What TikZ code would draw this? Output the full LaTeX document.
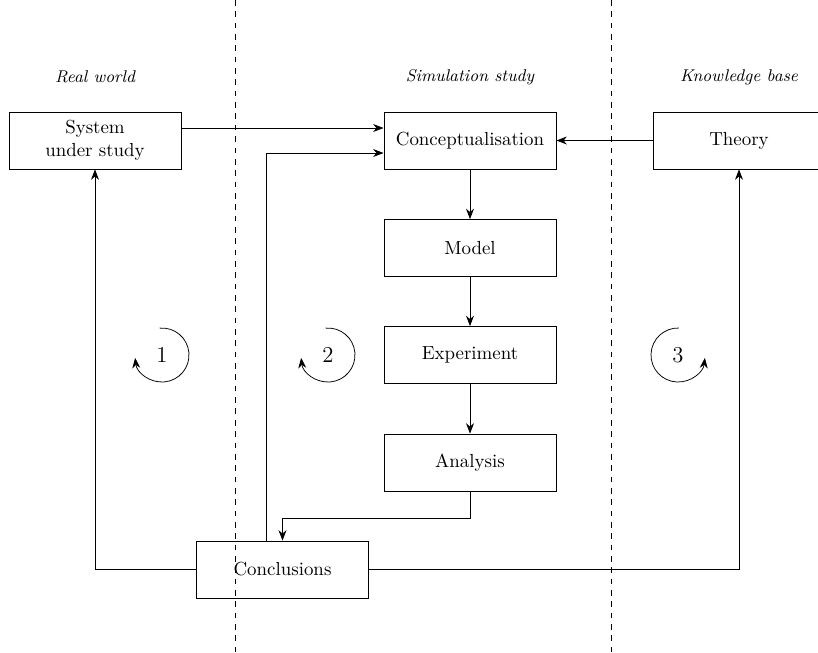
\documentclass[tikz,border=0pt]{standalone}
\usetikzlibrary{arrows.meta,calc}
\begin{document}
\begin{tikzpicture}[x=0.018582cm,y=0.018582cm,
  >={Stealth[length=5.5pt,width=4.2pt]},
  stagebox/.style={draw,rectangle,minimum width=3.2cm,minimum height=1.06cm,align=center,inner sep=2pt},
  heading/.style={font=\small\itshape},
  divider/.style={dashed},
  loopnum/.style={font=\large}]
\useasboundingbox (0,0) rectangle (818,-652);
\clip (0,0) rectangle (818,-652);

% column dividers
\draw[divider] (235,0) -- (235,-652);
\draw[divider] (611,0) -- (611,-652);

% column headings
\node[heading] (hreal) at (95,-77) {Real world};
\node[heading] (hsim) at (470,-77) {Simulation study};
\node[heading] (hknow) at (739,-77) {Knowledge base};

% boxes
\node[stagebox] (sys) at (95,-140.5) {System\\under study};
\node[stagebox] (concept) at (470,-140.5) {Conceptualisation};
\node[stagebox] (theory) at (739,-140.5) {Theory};
\node[stagebox] (model) at (470,-248) {Model};
\node[stagebox] (exper) at (470,-355) {Experiment};
\node[stagebox] (analysis) at (470,-462.5) {Analysis};
\node[stagebox] (concl) at (282.5,-569.5) {Conclusions};

% main flow
\draw[->] ($(sys.east)+(0,12.5)$) -- ($(concept.west)+(0,12.5)$);
\draw[->] (theory.west) -- (concept.east);
\draw[->] (concept) -- (model);
\draw[->] (model) -- (exper);
\draw[->] (exper) -- (analysis);
\draw[->] (analysis.south) -- ++(0,-27) -| (concl.north);
\draw[->] ($(concl.north)+(-16.5,0)$) |- ($(concept.west)+(0,-12.5)$);
\draw[->] (concl.west) -| (sys.south);
\draw[->] (concl.east) -| (theory.south);

% feedback loops
\node[loopnum] (l1) at (162,-355) {1};
\node[loopnum] (l2) at (328,-355) {2};
\node[loopnum] (l3) at (678,-355) {3};
\draw[->] ([shift={(95:27)}]l1.center) arc[start angle=95,end angle=-174,radius=27];
\draw[->] ([shift={(95:27)}]l2.center) arc[start angle=95,end angle=-174,radius=27];
\draw[->] ([shift={(88:27)}]l3.center) arc[start angle=88,end angle=354,radius=27];
\end{tikzpicture}
\end{document}
